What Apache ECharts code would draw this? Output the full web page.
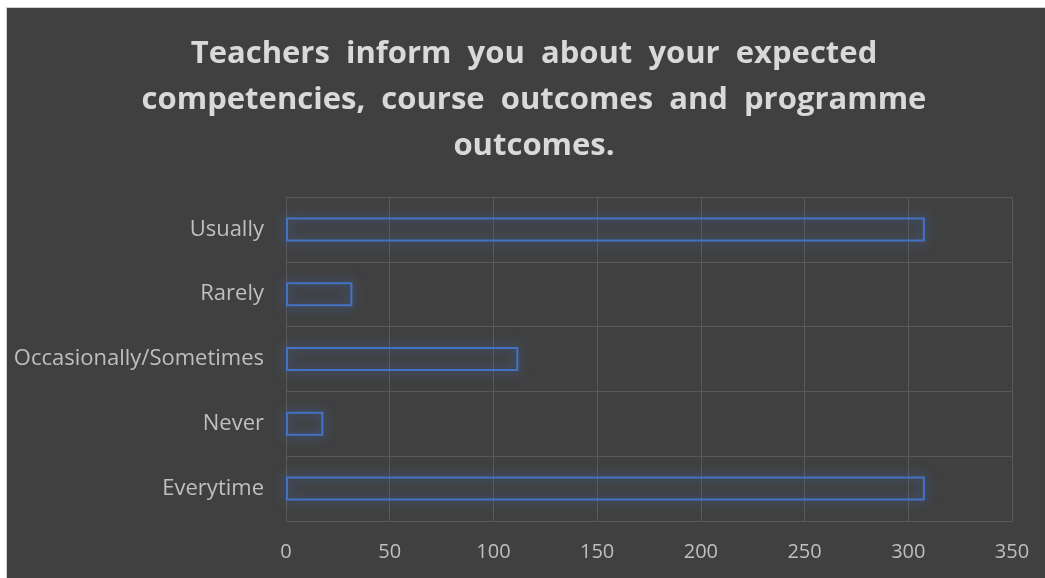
<!DOCTYPE html>
<html>
<head>
<meta charset="utf-8">
<script src="https://cdn.jsdelivr.net/npm/echarts@6/dist/echarts.min.js"></script>
<style>
  html, body { margin: 0; padding: 0; background: #ffffff; }
  #chart {
    position: absolute;
    left: 6px;
    top: 7px;
    width: 1039px;
    height: 571px;
    border-left: 1px solid #d0d0d0;
    border-top: 1px solid #d0d0d0;
  }
</style>
</head>
<body>
<div id="chart"></div>
<script>
// categories are listed bottom to top, as the chart shows them
const categories = ["Everytime", "Never", "Occasionally/Sometimes", "Rarely", "Usually"];
const responses = [308, 18, 112, 32, 308];
const xTicks = { min: 0, max: 350, interval: 50 };

const titleLines = [
  "Teachers  inform  you  about  your  expected",
  "competencies,  course  outcomes  and  programme",
  "outcomes."
];

const chart = echarts.init(document.getElementById("chart"));

const option = {
  backgroundColor: "#404040",
  animation: false,
  title: {
    text: titleLines.join("\n"),
    left: 522,
    top: 18,
    textAlign: "center",
    textStyle: {
      color: "#d9d9d9",
      fontFamily: "Open Sans",
      fontWeight: "bold",
      fontSize: 31,
      lineHeight: 46,
    },
  },
  grid: {
    left: 279,
    top: 189,
    width: 726,
    height: 324,
    containLabel: false,
  },
  xAxis: {
    type: "value",
    min: xTicks.min,
    max: xTicks.max,
    interval: xTicks.interval,
    axisLine: { show: false },
    axisTick: { show: false },
    axisLabel: {
      color: "#bfbfbf",
      fontFamily: "Open Sans",
      fontSize: 20,
      margin: 21,
    },
    splitLine: { lineStyle: { color: "#595959", width: 1 } },
  },
  yAxis: {
    type: "category",
    data: categories,
    axisLine: { show: false },
    axisTick: { show: false },
    axisLabel: {
      color: "#bfbfbf",
      fontFamily: "Open Sans",
      fontSize: 22,
      margin: 22,
    },
    splitLine: { show: true, lineStyle: { color: "#595959", width: 1 } },
  },
  series: [
    {
      type: "bar",
      data: responses,
      barWidth: 24,
      itemStyle: {
        color: "rgba(0,0,0,0)",
        borderColor: "#4472c4",
        borderWidth: 2,
        shadowColor: "rgba(68,114,196,1)",
        shadowBlur: 12,
      },
    },
  ],
};

chart.setOption(option);
</script>
</body>
</html>
